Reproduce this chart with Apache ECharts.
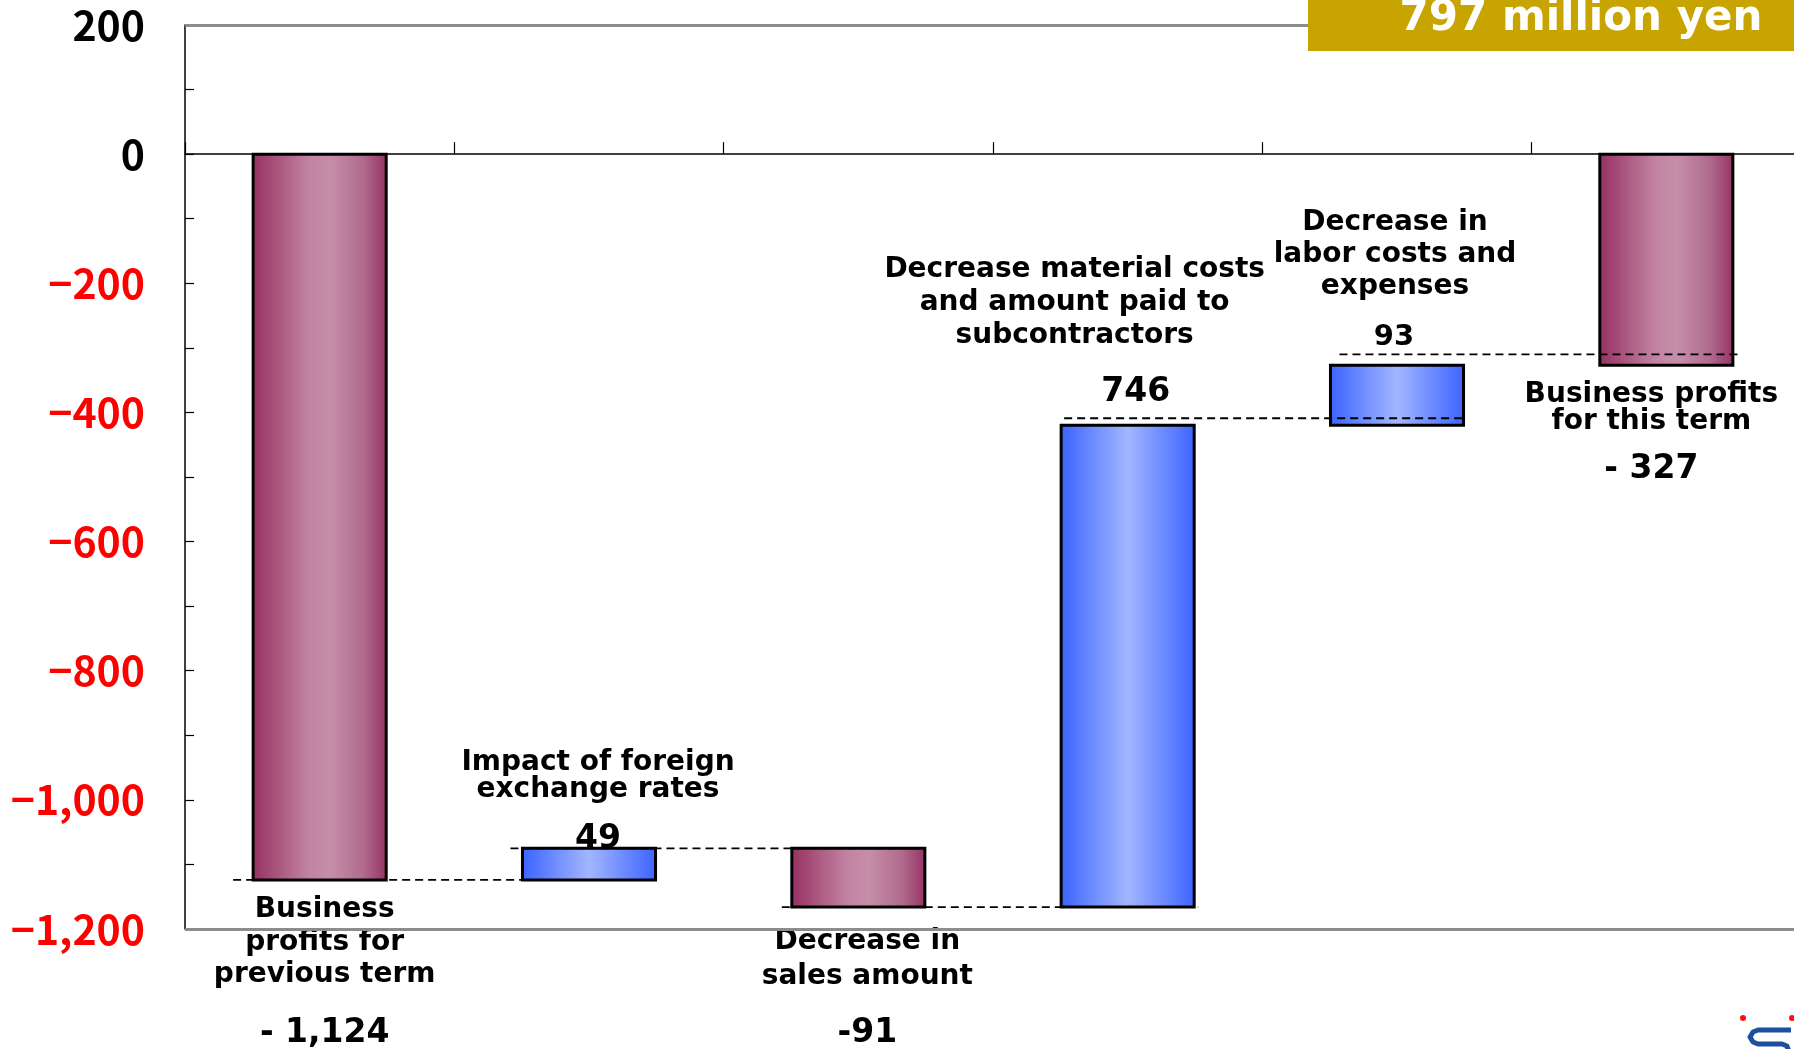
<!DOCTYPE html>
<html>
<head>
<meta charset="utf-8">
<title>Business profits bridge</title>
<script src="https://cdn.jsdelivr.net/npm/echarts@6/dist/echarts.min.js"></script>
<style>
  html, body { margin: 0; padding: 0; background: #fff; }
  #chart { width: 1794px; height: 1049px; }
</style>
</head>
<body>
<div id="chart"></div>
<script>
// Bridge from last term's business profits to this term's (million yen)
const categories = [
  'Business\nprofits for\nprevious term',
  'Impact of foreign\nexchange rates',
  'Decrease in\nsales amount',
  'Decrease material costs\nand amount paid to\nsubcontractors',
  'Decrease in\nlabor costs and\nexpenses',
  'Business profits\nfor this term'
];
const changes = [-1124, 49, -91, 746, 93, -327];
const kinds = ['total', 'delta', 'delta', 'delta', 'delta', 'total'];
const valueLabels = ['- 1,124', '49', '-91', '746', '93', '- 327'];
// levels of the dashed connectors between neighbouring bars
const connectorLevels = [-1124, -1075, -1166, -409, -310];
const yMin = -1200, yMax = 200, yStep = 100, yLabelStep = 200;
const badgeText = '797 million yen';

// running totals -> [category, from, to, change]
let running = 0;
const barRows = changes.map((v, i) => {
  let from, to;
  if (kinds[i] === 'total') { from = 0; to = v; }
  else { from = running; to = running + v; }
  running = to;
  return [i, from, to, v];
});
const connectorRows = connectorLevels.map((lv, i) => [i, lv]);

// label placement around each bar (pixel offsets from the bar edge)
const labelLayout = [
  { side: 'below', dx: 5,   dy: 62.5,  lh: 32.5, vdx: 5,   vdy: 153, vfs: 33 },
  { side: 'above', dx: 9,   dy: -72,   lh: 27,   vdx: 9,   vdy: -9,  vfs: 33 },
  { side: 'below', dx: 9,   dy: 52.5,  lh: 35,   vdx: 9,   vdy: 126, vfs: 33 },
  { side: 'above', dx: -53, dy: -123,  lh: 33,   vdx: 8,   vdy: -33, vfs: 33 },
  { side: 'above', dx: -2,  dy: -111,  lh: 32,   vdx: -3,  vdy: -28, vfs: 29 },
  { side: 'below', dx: -15, dy: 43,    lh: 27.5, vdx: -15, vdy: 104, vfs: 33 }
];
// where each dashed connector starts/ends relative to the bar edges (px)
const connectorInset = [
  { start: -20, end: 0 },
  { start: -12, end: -6 },
  { start: -10, end: 4 },
  { start: 3, end: -1 },
  { start: 9, end: 5 }
];

const BAR_RATIO = 0.494;
const LABEL_FONT = '"DejaVu Sans", Verdana, sans-serif';
function hGradient(stops) {
  return { type: 'linear', x: 0, y: 0, x2: 1, y2: 0, colorStops: stops };
}
const magentaStops = [
  { offset: 0, color: '#953061' },
  { offset: 0.42, color: '#c283a2' },
  { offset: 0.58, color: '#c68ea9' },
  { offset: 0.82, color: '#b06b8d' },
  { offset: 1, color: '#963163' }
];
const blueStops = [
  { offset: 0, color: '#3a62ff' },
  { offset: 0.5, color: '#a2b6ff' },
  { offset: 1, color: '#3b63ff' }
];

function formatAxis(v) {
  v = Number(v);
  if (v % yLabelStep !== 0) return '';
  const s = String(Math.abs(v)).replace(/\B(?=(\d{3})+(?!\d))/g, ',');
  return v < 0 ? '\u2212' + s : s;
}

function renderBar(params, api) {
  const i = api.value(0), from = api.value(1), to = api.value(2), v = api.value(3);
  const a = api.coord([i, from]);
  const b = api.coord([i, to]);
  const w = api.size([1, 0])[0] * BAR_RATIO;
  const top = Math.min(a[1], b[1]);
  const bot = Math.max(a[1], b[1]);
  const L = labelLayout[i];
  const edge = L.side === 'below' ? bot : top;
  return {
    type: 'group',
    children: [
      {
        type: 'rect',
        shape: { x: a[0] - w / 2, y: top, width: w, height: bot - top },
        style: { fill: hGradient(v < 0 ? magentaStops : blueStops), stroke: '#000', lineWidth: 3 }
      },
      {
        type: 'text',
        x: a[0] + L.dx,
        y: edge + L.dy,
        z2: 20,
        style: {
          text: categories[i], fill: '#000',
          fontFamily: LABEL_FONT, fontWeight: 'bold', fontSize: 28,
          align: 'center', verticalAlign: 'middle', lineHeight: L.lh
        }
      },
      {
        type: 'text',
        x: a[0] + L.vdx,
        y: edge + L.vdy,
        z2: 20,
        style: {
          text: valueLabels[i], fill: '#000',
          fontFamily: LABEL_FONT, fontWeight: 'bold', fontSize: L.vfs,
          align: 'center', verticalAlign: 'middle'
        }
      }
    ]
  };
}

function renderConnector(params, api) {
  const i = api.value(0), lv = api.value(1);
  const p = api.coord([i, lv]);
  const q = api.coord([i + 1, lv]);
  const w = api.size([1, 0])[0] * BAR_RATIO;
  const inset = connectorInset[i];
  return {
    type: 'line',
    shape: { x1: p[0] - w / 2 + inset.start, y1: p[1], x2: q[0] + w / 2 + inset.end, y2: q[1] },
    style: { stroke: '#000', lineWidth: 1.8, lineDash: [8, 5] }
  };
}

const chart = echarts.init(document.getElementById('chart'), null, { renderer: 'canvas' });
chart.setOption({
  animation: false,
  backgroundColor: '#ffffff',
  grid: { left: 185, right: -7, top: 25, bottom: 120, containLabel: false, outerBoundsMode: 'none' },
  xAxis: {
    type: 'category',
    data: categories,
    boundaryGap: true,
    axisLine: { onZero: true, lineStyle: { color: '#000', width: 1.5 } },
    axisTick: { show: true, inside: true, length: 12, lineStyle: { color: '#000', width: 1.2 } },
    axisLabel: { show: false },
    splitLine: { show: false }
  },
  yAxis: {
    type: 'value',
    min: yMin, max: yMax, interval: yStep,
    axisLine: { show: true, lineStyle: { color: '#000', width: 1.5 } },
    axisTick: { show: true, inside: true, length: 9, lineStyle: { color: '#000', width: 1.2 } },
    axisLabel: {
      margin: 40,
      formatter: formatAxis,
      color: (v) => (Number(v) < 0 ? '#ff0000' : '#000000'),
      fontFamily: '"Noto Sans CJK JP", sans-serif',
      fontSize: 41,
      fontWeight: 'bold'
    },
    splitLine: { show: false }
  },
  series: [
    {
      type: 'line',
      data: [],
      silent: true,
      markLine: {
        silent: true,
        symbol: 'none',
        label: { show: false },
        lineStyle: { color: '#8c8c8c', width: 3, type: 'solid' },
        data: [{ yAxis: yMax }, { yAxis: yMin }]
      }
    },
    {
      type: 'custom',
      renderItem: renderBar,
      data: barRows,
      encode: { x: 0, y: [1, 2] },
      z: 3,
      clip: false
    },
    {
      type: 'custom',
      renderItem: renderConnector,
      data: connectorRows,
      encode: { x: 0, y: 1 },
      z: 4,
      clip: false
    }
  ],
  graphic: [
    {
      type: 'rect', z: 100,
      shape: { x: 1308, y: 0, width: 486, height: 51 },
      style: { fill: '#c8a400' }
    },
    {
      type: 'text', x: 1581, y: 19, z: 101,
      style: {
        text: badgeText, fill: '#ffffff',
        fontFamily: '"DejaVu Sans", sans-serif', fontWeight: 'bold', fontSize: 42,
        align: 'center', verticalAlign: 'middle'
      }
    },
    { type: 'circle', z: 101, shape: { cx: 1743, cy: 1018, r: 3 }, style: { fill: '#ff1010' } },
    { type: 'circle', z: 101, shape: { cx: 1792, cy: 1018, r: 3 }, style: { fill: '#ff1010' } },
    {
      type: 'polyline', z: 101,
      shape: { points: [[1791, 1030], [1758, 1030], [1753, 1032], [1750, 1037], [1753, 1042], [1758, 1044], [1782, 1044], [1787, 1046], [1789, 1052]] },
      style: { fill: null, stroke: '#1d4f9f', lineWidth: 5, lineJoin: 'round' }
    }
  ]
});
</script>
</body>
</html>
